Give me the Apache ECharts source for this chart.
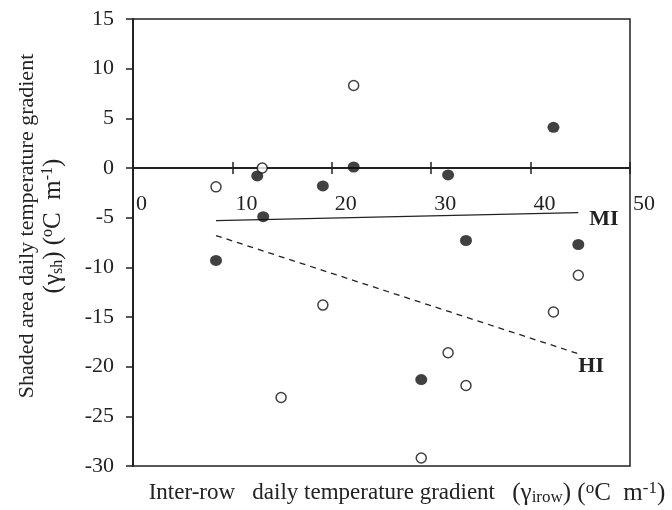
<!DOCTYPE html>
<html><head><meta charset="utf-8">
<script src="https://cdn.jsdelivr.net/npm/echarts@6/dist/echarts.min.js"></script>
<style>html,body{margin:0;padding:0;background:#fff}#c{width:672px;height:510px}</style>
</head><body><div id="c"></div>
<script>
// Data
const filledX = [8.35, 12.5, 13.1, 19.1, 22.2, 29.0, 31.7, 33.5, 42.3, 44.8];
const filledY = [-9.3, -0.8, -4.9, -1.8, 0.1, -21.3, -0.7, -7.3, 4.1, -7.7];
const openX = [8.35, 13.0, 14.9, 19.1, 22.2, 29.0, 31.7, 33.5, 42.3, 44.8];
const openY = [-1.9, 0.0, -23.1, -13.8, 8.3, -29.2, -18.6, -21.9, -14.5, -10.8];
const miLineX = [8.35, 44.8];
const miLineY = [-5.3, -4.5];
const hiLineX = [8.35, 44.8];
const hiLineY = [-6.8, -18.7];
const xTicks = [0, 10, 20, 30, 40, 50];
const yTicks = [-30, -25, -20, -15, -10, -5, 0, 5, 10, 15];

const FONT = '"Liberation Serif","Times New Roman",serif';
const zip = (a, b) => a.map((v, i) => [v, b[i]]);

const chart = echarts.init(document.getElementById('c'));
const mkRich = (fs, big) => ({
  n: {fontFamily: FONT, fontSize: big, color: '#222'},
  sub: {fontFamily: FONT, fontSize: Math.round(fs * 0.72), color: '#222', verticalAlign: 'bottom', padding: [9, 0, 0, 0]},
  sup: {fontFamily: FONT, fontSize: Math.round(fs * 0.72), color: '#222', verticalAlign: 'top', padding: [0, 0, 9, 0]}
});
const endLbl = (txt, offset) => ({
  show: true, formatter: txt, offset: offset, distance: 8,
  fontFamily: FONT, fontSize: 22, fontWeight: 'bold', color: '#222'
});

chart.setOption({
  animation: false,
  backgroundColor: '#fff',
  grid: {left: 133, right: 42, top: 19, bottom: 44, outerBoundsMode: 'none', containLabel: false,
         show: true, borderColor: '#222', borderWidth: 1.5, backgroundColor: 'transparent'},
  xAxis: [{
    type: 'value', min: xTicks[0], max: xTicks[xTicks.length - 1], interval: 10,
    axisLine: {onZero: true, onZeroAxisIndex: 0, lineStyle: {color: '#222', width: 2}},
    axisTick: {show: true, inside: false, length: 6, lineStyle: {color: '#222', width: 1.5}},
    axisLabel: {color: '#222', fontFamily: FONT, fontSize: 22, align: 'left', margin: -273, padding: [0, 0, 0, 3]},
    splitLine: {show: false}
  }, {
    type: 'value', position: 'bottom', min: xTicks[0], max: xTicks[xTicks.length - 1], interval: 10,
    axisLine: {onZero: true, onZeroAxisIndex: 0, lineStyle: {color: '#222', width: 2}},
    axisTick: {show: true, inside: true, length: 6, lineStyle: {color: '#222', width: 1.5}},
    axisLabel: {show: false},
    splitLine: {show: false}
  }],
  yAxis: {
    type: 'value', min: yTicks[0], max: yTicks[yTicks.length - 1], interval: 5,
    axisLine: {show: true, onZero: false, lineStyle: {color: '#222', width: 2}},
    axisTick: {show: true, inside: false, length: 7, lineStyle: {color: '#222', width: 1.5}},
    axisLabel: {color: '#222', fontFamily: FONT, fontSize: 22, margin: 19},
    splitLine: {show: false}
  },
  series: [
    {type: 'line', name: 'MI', data: zip(miLineX, miLineY), symbol: 'none', showSymbol: false,
     lineStyle: {color: '#222', width: 1.3}, endLabel: endLbl('MI', [3, 7]), z: 3},
    {type: 'line', name: 'HI', data: zip(hiLineX, hiLineY), symbol: 'none', showSymbol: false,
     lineStyle: {color: '#222', width: 1.3, type: [6, 5]}, endLabel: endLbl('HI', [-8, 13]), z: 3},
    {type: 'scatter', name: 'filled', data: zip(filledX, filledY), symbol: 'circle', symbolSize: [12, 11],
     itemStyle: {color: '#111'}, z: 5},
    {type: 'scatter', name: 'open', data: zip(openX, openY), symbol: 'circle', symbolSize: 10,
     itemStyle: {color: '#fff', borderColor: '#111', borderWidth: 1.5}, z: 5}
  ],
  graphic: [
    {type: 'text', x: 40, y: 226, rotation: Math.PI / 2,
     style: {text: 'Shaded area daily temperature gradient\n{n|(γ}{sub|sh}{n|) (}{sup|o}{n|C  m}{sup|-1}{n|)}',
       rich: mkRich(22, 25), fontFamily: FONT, fontSize: 22, fill: '#222', align: 'center', verticalAlign: 'middle', lineHeight: 26}},
    {type: 'text', x: 407, y: 493,
     style: {text: 'Inter-row   daily temperature gradient   {n|(γ}{sub|irow}{n|) (}{sup|o}{n|C  m}{sup|-1}{n|)}',
       rich: mkRich(23, 25), fontFamily: FONT, fontSize: 23, fill: '#222', align: 'center', verticalAlign: 'middle'}}
  ]
});
</script></body></html>
